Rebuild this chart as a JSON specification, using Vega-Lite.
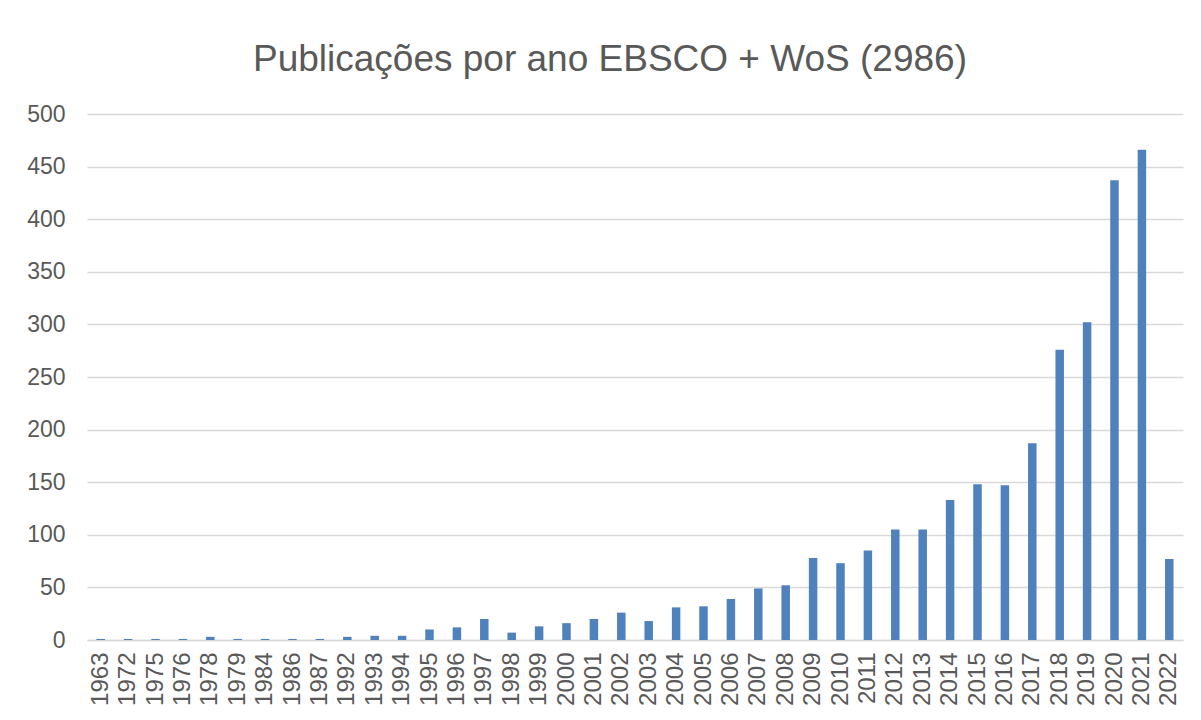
{
  "$schema": "https://vega.github.io/schema/vega-lite/v6.json",
  "autosize": "none",
  "width": 1096,
  "height": 526,
  "padding": {"left": 87, "top": 114, "right": 18, "bottom": 80},
  "background": "white",
  "title": {
    "text": "Publicações por ano EBSCO + WoS (2986)",
    "anchor": "middle",
    "dx": -25,
    "offset": 24,
    "fontSize": 37,
    "font": "Liberation Sans",
    "fontWeight": "normal",
    "color": "#595959"
  },
  "data": {
    "values": [
      {"ano": "1963", "n": 1}, {"ano": "1972", "n": 1}, {"ano": "1975", "n": 1},
      {"ano": "1976", "n": 1}, {"ano": "1978", "n": 3}, {"ano": "1979", "n": 1},
      {"ano": "1984", "n": 1}, {"ano": "1986", "n": 1}, {"ano": "1987", "n": 1},
      {"ano": "1992", "n": 3}, {"ano": "1993", "n": 4}, {"ano": "1994", "n": 4},
      {"ano": "1995", "n": 10}, {"ano": "1996", "n": 12}, {"ano": "1997", "n": 20},
      {"ano": "1998", "n": 7}, {"ano": "1999", "n": 13}, {"ano": "2000", "n": 16},
      {"ano": "2001", "n": 20}, {"ano": "2002", "n": 26}, {"ano": "2003", "n": 18},
      {"ano": "2004", "n": 31}, {"ano": "2005", "n": 32}, {"ano": "2006", "n": 39},
      {"ano": "2007", "n": 49}, {"ano": "2008", "n": 52}, {"ano": "2009", "n": 78},
      {"ano": "2010", "n": 73}, {"ano": "2011", "n": 85}, {"ano": "2012", "n": 105},
      {"ano": "2013", "n": 105}, {"ano": "2014", "n": 133}, {"ano": "2015", "n": 148},
      {"ano": "2016", "n": 147}, {"ano": "2017", "n": 187}, {"ano": "2018", "n": 276},
      {"ano": "2019", "n": 302}, {"ano": "2020", "n": 437}, {"ano": "2021", "n": 466},
      {"ano": "2022", "n": 77}
    ]
  },
  "mark": {"type": "bar", "color": "#4F81BD"},
  "encoding": {
    "x": {
      "field": "ano",
      "type": "ordinal",
      "sort": null,
      "scale": {"paddingInner": 0.69, "paddingOuter": 0.345},
      "axis": {
        "title": null,
        "labelAngle": -90,
        "labelFontSize": 24,
        "labelFont": "Liberation Sans",
        "labelColor": "#595959",
        "labelPadding": 12,
        "ticks": false,
        "domainColor": "#D9D9D9",
        "domainWidth": 1.5,
        "grid": false
      }
    },
    "y": {
      "field": "n",
      "type": "quantitative",
      "scale": {"domain": [0, 500], "nice": false},
      "axis": {
        "title": null,
        "values": [0, 50, 100, 150, 200, 250, 300, 350, 400, 450, 500],
        "labelFontSize": 23,
        "labelFont": "Liberation Sans",
        "labelColor": "#595959",
        "labelPadding": 22,
        "ticks": false,
        "domain": false,
        "gridColor": "#D9D9D9",
        "gridWidth": 1.5
      }
    }
  },
  "config": {"view": {"stroke": null}}
}
